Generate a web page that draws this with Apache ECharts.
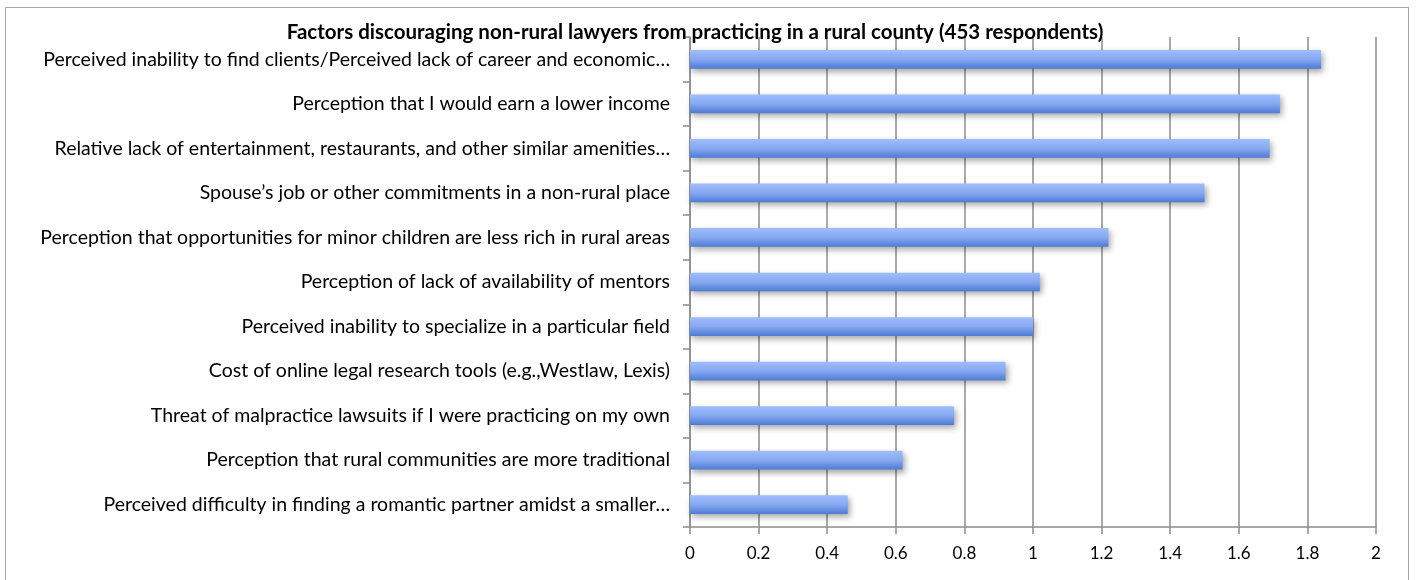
<!DOCTYPE html>
<html>
<head>
<meta charset="utf-8">
<title>Factors discouraging non-rural lawyers</title>
<script src="https://cdn.jsdelivr.net/npm/echarts@6/dist/echarts.min.js"></script>
<style>
  html, body { margin: 0; padding: 0; background: #fff; }
  #frame { position: absolute; left: 5px; top: 7px; width: 1404px; height: 580px; border: 1px solid #a6a6a6; box-sizing: border-box; }
  #container { position: absolute; left: 0; top: 0; width: 1416px; height: 580px; }
</style>
</head>
<body>
<div id="frame"></div>
<div id="container"></div>
<script>
var factors = [
  'Perceived inability to find clients/Perceived lack of career and economic…',
  'Perception that I would earn a lower income',
  'Relative lack of entertainment, restaurants, and other similar amenities…',
  'Spouse\u2019s job or other commitments in a non-rural place',
  'Perception that opportunities for minor children are less rich in rural areas',
  'Perception of lack of availability of mentors',
  'Perceived inability to specialize in a particular field',
  'Cost of online legal research tools (e.g.,Westlaw, Lexis)',
  'Threat of malpractice lawsuits if I were practicing on my own',
  'Perception that rural communities are more traditional',
  'Perceived difficulty in finding a romantic partner amidst a smaller…'
];
var scores = [1.84, 1.72, 1.69, 1.50, 1.22, 1.02, 1.00, 0.92, 0.77, 0.62, 0.46];

var chart = echarts.init(document.getElementById('container'));
var font = 'Lato, "Open Sans", sans-serif';

var option = {
  animation: false,
  title: {
    text: 'Factors discouraging non-rural lawyers from practicing in a rural county (453 respondents)',
    left: 690, top: 17, textAlign: 'center',
    textStyle: { fontFamily: font, fontSize: 20.5, fontWeight: 'bold', color: '#000' }
  },
  grid: { left: 690, right: 40, top: 37, bottom: 53 },
  xAxis: {
    type: 'value', min: 0, max: 2, interval: 0.2,
    axisLine: { show: true, lineStyle: { color: '#8c8c8c', width: 1.5 } },
    axisTick: { show: true, length: 7, lineStyle: { color: '#8c8c8c', width: 1.5 } },
    splitLine: { show: true, lineStyle: { color: '#8c8c8c', width: 1.5 } },
    axisLabel: {
      margin: 18, color: '#000', fontFamily: font, fontSize: 17,
      formatter: function (v) { return String(Math.round(v * 10) / 10); }
    }
  },
  yAxis: {
    type: 'category', data: factors, inverse: true,
    axisLine: { show: true, lineStyle: { color: '#8c8c8c', width: 1.5 } },
    axisTick: { show: true, length: 7, lineStyle: { color: '#8c8c8c', width: 1.5 } },
    axisLabel: { margin: 20, color: '#000', fontFamily: font, fontSize: 19.5 }
  },
  series: [{
    type: 'bar',
    data: scores,
    barWidth: '42%',
    itemStyle: {
      color: new echarts.graphic.LinearGradient(0, 0, 0, 1, [
        { offset: 0, color: '#a0bdfd' },
        { offset: 0.5, color: '#86a8f1' },
        { offset: 1, color: '#4d7bd5' }
      ]),
      shadowColor: 'rgba(0,0,0,0.35)',
      shadowBlur: 6,
      shadowOffsetX: 2,
      shadowOffsetY: 3
    }
  }]
};

chart.setOption(option);
</script>
</body>
</html>
